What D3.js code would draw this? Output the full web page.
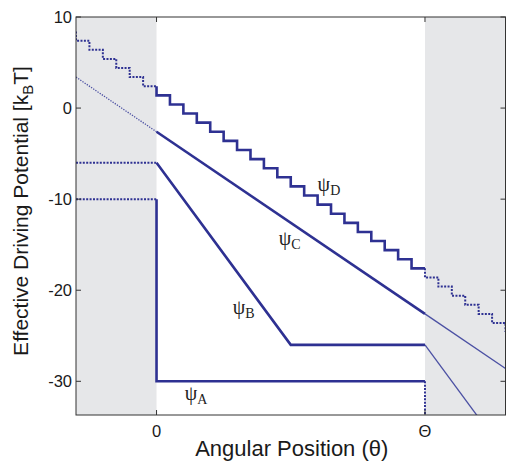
<!DOCTYPE html>
<html>
<head>
<meta charset="utf-8">
<script src="https://cdn.jsdelivr.net/npm/d3@7"></script>
<style>
  html, body { margin: 0; padding: 0; background: #fff; }
  svg { display: block; }
  text { font-family: "Liberation Sans", Arial, Helvetica, sans-serif; fill: #1a1a1a; }
  .psi { font-family: "Liberation Serif", "Times New Roman", serif; fill: #222; }
</style>
</head>
<body>
<svg id="chart" width="507" height="463"></svg>
<script>
// x in units of Theta (Θ = 1), y in kBT
const xDomain = [-0.3, 1.3];
const yDomain = [-33.7, 10];
const yTicks = [10, 0, -10, -20, -30];
const xTicks = [0, 1];
const xTickLabels = ["0", "Θ"];

const psiA_left = [[-0.3, -10], [0, -10]];
const psiA_mid = [[0, -10], [0, -30], [1, -30]];
const psiA_right = [[1, -30], [1, -33.7]];

const psiB_left = [[-0.3, -6], [0, -6]];
const psiB_mid = [[0, -6], [0.5, -26], [1, -26]];
const psiB_right = [[1, -26], [1.3, -38]];

const psiC_left = [[-0.3, 3.4], [0, -2.6]];
const psiC_mid = [[0, -2.6], [1, -22.6]];
const psiC_right = [[1, -22.6], [1.3, -28.6]];

// staircase: edges and the level just right of each edge
const psiD_start = 8.4;
const psiD_edges = [-0.3, -0.25, -0.2, -0.15, -0.1, -0.05, 0, 0.05, 0.1, 0.15, 0.2, 0.25, 0.3,
  0.35, 0.4, 0.45, 0.5, 0.55, 0.6, 0.65, 0.7, 0.75, 0.8, 0.85, 0.9, 0.95, 1, 1.05, 1.1, 1.15,
  1.2, 1.25, 1.3];
const psiD_levels = [7.4, 6.4, 5.4, 4.4, 3.4, 2.4, 1.4, 0.4, -0.6, -1.6, -2.6, -3.6, -4.6,
  -5.6, -6.6, -7.6, -8.6, -9.6, -10.6, -11.6, -12.6, -13.6, -14.6, -15.6, -16.6, -17.6, -18.6,
  -19.6, -20.6, -21.6, -22.6, -23.6, -24.6];

const psiLabels = [
  { sub: "A", x: 0.105, y: -32.1 },
  { sub: "B", x: 0.284, y: -22.6 },
  { sub: "C", x: 0.455, y: -15.0 },
  { sub: "D", x: 0.6, y: -9.1 }
];

const svg = d3.select("#chart");
const margin = { top: 17, right: 1.5, bottom: 48, left: 76 };
const width = 507 - margin.left - margin.right;
const height = 463 - margin.top - margin.bottom;

const x = d3.scaleLinear().domain(xDomain).range([0, width]);
const y = d3.scaleLinear().domain(yDomain).range([height, 0]);

const g = svg.append("g").attr("transform", `translate(${margin.left},${margin.top})`);

g.append("clipPath").attr("id", "plot-clip")
  .append("rect").attr("width", width).attr("height", height);

// shaded regions outside [0, Θ]
g.selectAll(".shade")
  .data([[xDomain[0], 0], [1, xDomain[1]]])
  .join("rect")
  .attr("class", "shade")
  .attr("x", d => x(d[0]))
  .attr("width", d => x(d[1]) - x(d[0]))
  .attr("y", 0)
  .attr("height", height)
  .attr("fill", "#e6e7e9");

const stairs = (lo, hi) => {
  const pts = [];
  psiD_edges.forEach((e, i) => {
    if (e < lo - 1e-9 || e >= hi - 1e-9) return;
    pts.push([e, i ? psiD_levels[i - 1] : psiD_start]);
    pts.push([e, psiD_levels[i]]);
    const next = psiD_edges[i + 1];
    if (next !== undefined) pts.push([Math.min(next, hi), psiD_levels[i]]);
  });
  return pts;
};

const blue = "#2e3192";
const line = d3.line().x(d => x(d[0])).y(d => y(d[1]));
const curves = g.append("g").attr("clip-path", "url(#plot-clip)");

const dotted = [psiA_left, psiA_right, psiB_left, stairs(-0.3, 0), stairs(1, 1.4)];
const thinDotted = [psiC_left];
const thin = [psiB_right, psiC_right];
const solid = [psiA_mid, psiB_mid, psiC_mid, stairs(0, 1)];

curves.selectAll(".thin").data(thin).join("path")
  .attr("class", "thin")
  .attr("d", line).attr("fill", "none")
  .attr("stroke", "#4b50a3").attr("stroke-width", 1.3);

curves.selectAll(".thin-dot").data(thinDotted).join("path")
  .attr("class", "thin-dot")
  .attr("d", line).attr("fill", "none")
  .attr("stroke", "#4b50a3").attr("stroke-width", 1.3)
  .attr("stroke-dasharray", "1.3 1.3");

curves.selectAll(".dotted").data(dotted).join("path")
  .attr("class", "dotted")
  .attr("d", line).attr("fill", "none")
  .attr("stroke", blue).attr("stroke-width", 2)
  .attr("stroke-dasharray", "2 1.4");

curves.selectAll(".solid").data(solid).join("path")
  .attr("class", "solid")
  .attr("d", line).attr("fill", "none")
  .attr("stroke", blue).attr("stroke-width", 2.6)
  .attr("stroke-linejoin", "miter");

// frame and inward ticks
const frame = "#333";
g.append("rect").attr("width", width).attr("height", height)
  .attr("fill", "none").attr("stroke", frame).attr("stroke-width", 1);

const tickLen = 5;
g.selectAll(".ytick-l").data(yTicks).join("line")
  .attr("x1", 0).attr("x2", tickLen).attr("y1", d => y(d)).attr("y2", d => y(d))
  .attr("stroke", frame);
g.selectAll(".ytick-r").data(yTicks).join("line")
  .attr("x1", width).attr("x2", width - tickLen).attr("y1", d => y(d)).attr("y2", d => y(d))
  .attr("stroke", frame);
g.selectAll(".xtick-b").data(xTicks).join("line")
  .attr("x1", d => x(d)).attr("x2", d => x(d)).attr("y1", height).attr("y2", height - tickLen)
  .attr("stroke", frame);
g.selectAll(".xtick-t").data(xTicks).join("line")
  .attr("x1", d => x(d)).attr("x2", d => x(d)).attr("y1", 0).attr("y2", tickLen)
  .attr("stroke", frame);

g.selectAll(".ylab").data(yTicks).join("text")
  .attr("x", -4).attr("y", d => y(d)).attr("dy", "0.35em")
  .attr("text-anchor", "end").attr("font-size", 16.5)
  .text(d => d);

g.selectAll(".xlab").data(xTicks).join("text")
  .attr("x", d => x(d)).attr("y", height + 22)
  .attr("text-anchor", "middle").attr("font-size", 16.5)
  .text((d, i) => xTickLabels[i]);

// axis titles
svg.append("text")
  .attr("x", margin.left + width / 2 + 1).attr("y", 456)
  .attr("text-anchor", "middle").attr("font-size", 22)
  .text("Angular Position (θ)");

const yt = svg.append("text")
  .attr("transform", `translate(28,211) rotate(-90)`)
  .attr("text-anchor", "middle").attr("font-size", 21);
yt.append("tspan").text("Effective Driving Potential [k");
yt.append("tspan").attr("font-size", 15).attr("dy", 5).text("B");
yt.append("tspan").attr("dy", -5).text("T]");

// curve labels
const labs = g.selectAll(".psi").data(psiLabels).join("text")
  .attr("class", "psi")
  .attr("x", d => x(d.x)).attr("y", d => y(d.y))
  .attr("font-size", 20);
labs.append("tspan").text("ψ");
labs.append("tspan").attr("font-size", 14).attr("dy", 4).text(d => d.sub);
</script>
</body>
</html>
